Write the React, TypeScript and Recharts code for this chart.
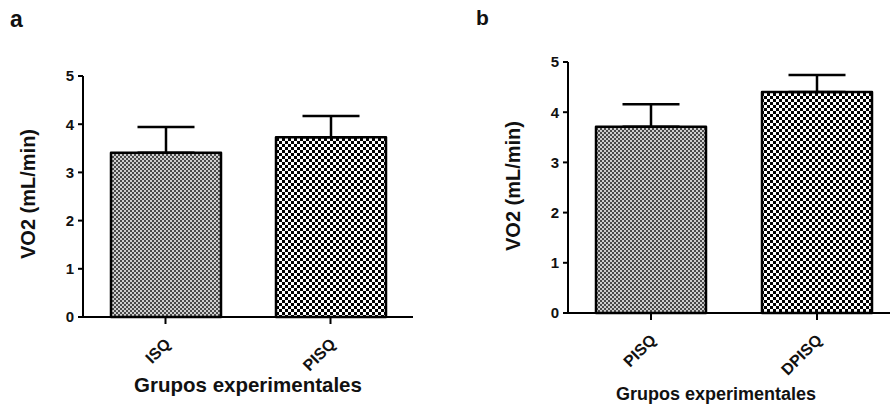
import React from 'react';
import { BarChart, Bar, XAxis, YAxis, ErrorBar, Cell } from 'recharts';

const categoriesA = ['ISQ', 'PISQ'];
const meansA = [3.41, 3.73];
const errorsA = [0.53, 0.44];
const patternsA = ['fine', 'coarse'];

const categoriesB = ['PISQ', 'DPISQ'];
const meansB = [3.71, 4.4];
const errorsB = [0.45, 0.34];
const patternsB = ['fine', 'coarse'];

const yTicks = [0, 1, 2, 3, 4, 5];

const FONT = '"Liberation Sans", Arial, sans-serif';

const dataA = categoriesA.map((c, i) => ({ group: c, vo2: meansA[i], err: [0, errorsA[i]], pattern: patternsA[i] }));
const dataB = categoriesB.map((c, i) => ({ group: c, vo2: meansB[i], err: [0, errorsB[i]], pattern: patternsB[i] }));

const Patterns = ({ prefix }: { prefix: string }) => (
  <defs>
    <pattern id={`${prefix}-fine`} patternUnits="userSpaceOnUse" width={4} height={4}>
      <rect x={0} y={0} width={4} height={4} fill="#cfcfcf" />
      <rect x={0} y={0} width={2} height={2} fill="#4a4a4a" />
      <rect x={2} y={2} width={2} height={2} fill="#4a4a4a" />
    </pattern>
    <pattern id={`${prefix}-coarse`} patternUnits="userSpaceOnUse" width={6} height={6}>
      <rect x={0} y={0} width={6} height={6} fill="#ffffff" />
      <rect x={0} y={0} width={3} height={3} fill="#000000" />
      <rect x={3} y={3} width={3} height={3} fill="#000000" />
    </pattern>
  </defs>
);

const XTick = (props: any) => {
  const { x, y, payload } = props;
  const ax = x + 6;
  const ay = y + 19;
  return (
    <text
      x={ax}
      y={ay}
      textAnchor="end"
      transform={`rotate(-45, ${ax}, ${ay})`}
      fontFamily={FONT}
      fontWeight="bold"
      fontSize={16}
      fill="#111"
    >
      {payload.value}
    </text>
  );
};

const YTick = (props: any) => {
  const { x, y, payload } = props;
  return (
    <text
      x={x}
      y={y}
      dy="0.355em"
      textAnchor="end"
      fontFamily={FONT}
      fontWeight="bold"
      fontSize={15}
      fill="#111"
    >
      {payload.value}
    </text>
  );
};

const axisStyle = { stroke: '#000', strokeWidth: 2 };

function Panel({
  data,
  prefix,
  width,
  margin,
  yTitle,
  xTitle,
  xTitleSize,
}: {
  data: any[];
  prefix: string;
  width: number;
  margin: any;
  yTitle: { x: number; y: number };
  xTitle: { x: number; y: number };
  xTitleSize: number;
}) {
  return (
    <BarChart width={width} height={408} data={data} margin={margin}>
      <Patterns prefix={prefix} />
      <XAxis
        dataKey="group"
        type="category"
        axisLine={axisStyle}
        tickLine={axisStyle}
        tickSize={7}
        height={60}
        tick={<XTick />}
        interval={0}
        label={{
          content: () => (
            <text
              x={xTitle.x}
              y={xTitle.y}
              textAnchor="middle"
              fontFamily={FONT}
              fontWeight="bold"
              fontSize={xTitleSize}
              fill="#111"
            >
              Grupos experimentales
            </text>
          ),
        }}
      />
      <YAxis
        type="number"
        domain={[0, 5]}
        ticks={yTicks}
        interval={0}
        width={40}
        axisLine={axisStyle}
        tickLine={axisStyle}
        tickSize={5}
        tickMargin={4}
        tick={<YTick />}
        label={{
          content: () => (
            <text
              x={yTitle.x}
              y={yTitle.y}
              textAnchor="middle"
              transform={`rotate(-90, ${yTitle.x}, ${yTitle.y})`}
              fontFamily={FONT}
              fontWeight="bold"
              fontSize={20}
              fill="#111"
            >
              VO2 (mL/min)
            </text>
          ),
        }}
      />
      <Bar dataKey="vo2" barSize={110} stroke="#000" strokeWidth={2.5} strokeLinejoin="round" isAnimationActive={false}>
        {data.map((d, i) => (
          <Cell key={i} fill={`url(#${prefix}-${d.pattern})`} />
        ))}
        <ErrorBar dataKey="err" direction="y" width={28.5} stroke="#000" strokeWidth={2.5} />
      </Bar>
    </BarChart>
  );
}

export default function App() {
  return (
    <div
      style={{
        position: 'absolute',
        left: 0,
        top: 0,
        width: 890,
        height: 408,
        overflow: 'hidden',
        background: '#fff',
        fontFamily: FONT,
      }}
    >
      <div style={{ position: 'absolute', left: 0, top: 0 }}>
        <Panel
          data={dataA}
          prefix="pa"
          width={440}
          margin={{ top: 76, right: 27, left: 43, bottom: 31 }}
          yTitle={{ x: 35, y: 194 }}
          xTitle={{ x: 248, y: 392 }}
          xTitleSize={20.5}
        />
      </div>
      <div style={{ position: 'absolute', left: 440, top: 0 }}>
        <Panel
          data={dataB}
          prefix="pb"
          width={460}
          margin={{ top: 62, right: 0, left: 88, bottom: 35 }}
          yTitle={{ x: 80, y: 186 }}
          xTitle={{ x: 276, y: 400 }}
          xTitleSize={18}
        />
      </div>
      <div
        style={{
          position: 'absolute',
          left: 10,
          top: 8,
          fontSize: 23,
          lineHeight: '22px',
          fontWeight: 'bold',
          color: '#111',
        }}
      >
        a
      </div>
      <div
        style={{
          position: 'absolute',
          left: 476,
          top: 8,
          fontSize: 21,
          lineHeight: '20px',
          fontWeight: 'bold',
          color: '#111',
        }}
      >
        b
      </div>
    </div>
  );
}
